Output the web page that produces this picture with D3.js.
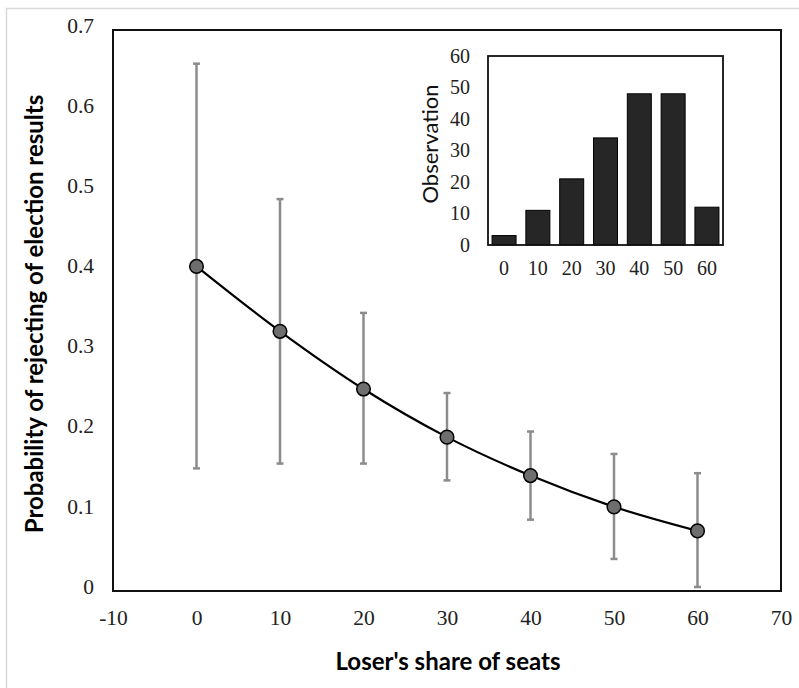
<!DOCTYPE html>
<html>
<head>
<meta charset="utf-8">
<script src="https://cdn.jsdelivr.net/npm/d3@7"></script>
<style>
html,body{margin:0;padding:0;background:#fff;}
svg{display:block;}
</style>
</head>
<body>
<div id="chart"></div>
<script>
// ---- data ----
const seatShare = [0, 10, 20, 30, 40, 50, 60];
const probability = [0.405, 0.324, 0.252, 0.192, 0.144, 0.105, 0.075];
const upperCI = [0.658, 0.489, 0.347, 0.247, 0.199, 0.171, 0.147];
const lowerCI = [0.153, 0.159, 0.159, 0.138, 0.089, 0.040, 0.005];
const xTicks = [-10, 0, 10, 20, 30, 40, 50, 60, 70];
const yTicks = [0, 0.1, 0.2, 0.3, 0.4, 0.5, 0.6, 0.7];

const histCategories = ["0", "10", "20", "30", "40", "50", "60"];
const histCounts = [3, 11, 21, 34, 48, 48, 12];
const histYTicks = [0, 10, 20, 30, 40, 50, 60];

const W = 799, H = 688;
const svg = d3.select("#chart").append("svg").attr("width", W).attr("height", H);

// outer light frame
svg.append("rect").attr("x", 6.5).attr("y", 8.5).attr("width", 820).attr("height", 700)
  .attr("fill", "#fff").attr("stroke", "#d9d9d9").attr("stroke-width", 1.5);

// ---- main chart ----
const x = d3.scaleLinear().domain([-10, 70]).range([113, 781]);
const y = d3.scaleLinear().domain([0, 0.7]).range([591, 30]);

const serif = "'Liberation Serif','Times New Roman',serif";
const sans = "Lato,'Open Sans',sans-serif";

// x axis labels
const xAxis = d3.axisBottom(x).tickValues(xTicks).tickSize(0).tickPadding(0).tickFormat(d => String(d));
const gx = svg.append("g").attr("transform", `translate(0,${y(0)})`).call(xAxis);
gx.select(".domain").remove();
gx.selectAll("text").attr("y", 0).attr("dy", "34px")
  .style("font-family", serif).style("font-size", "21.5px").attr("fill", "#222");

// y axis labels
const yAxis = d3.axisLeft(y).tickValues(yTicks).tickSize(0).tickPadding(0).tickFormat(d => d === 0 ? "0" : d3.format(".1f")(d));
const gy = svg.append("g").attr("transform", `translate(${x(-10)},0)`).call(yAxis);
gy.select(".domain").remove();
gy.selectAll("text").attr("x", -19).attr("dy", "0.1em")
  .style("font-family", serif).style("font-size", "21.5px").attr("fill", "#222");

// plot frame
svg.append("rect").attr("x", x(-10)).attr("y", y(0.7))
  .attr("width", x(70) - x(-10)).attr("height", y(0) - y(0.7))
  .attr("fill", "none").attr("stroke", "#111").attr("stroke-width", 2);

// error bars
const errColor = "#8c8c8c";
const eb = svg.append("g").attr("stroke", errColor).attr("stroke-width", 2.5);
seatShare.forEach((s, i) => {
  eb.append("line").attr("x1", x(s)).attr("x2", x(s)).attr("y1", y(upperCI[i])).attr("y2", y(lowerCI[i]));
  eb.append("line").attr("x1", x(s) - 3.5).attr("x2", x(s) + 3.5).attr("y1", y(upperCI[i])).attr("y2", y(upperCI[i]));
  eb.append("line").attr("x1", x(s) - 3.5).attr("x2", x(s) + 3.5).attr("y1", y(lowerCI[i])).attr("y2", y(lowerCI[i]));
});

// line
const line = d3.line().x((d, i) => x(seatShare[i])).y(d => y(d)).curve(d3.curveCardinal.tension(0));
svg.append("path").datum(probability).attr("d", line)
  .attr("fill", "none").attr("stroke", "#000").attr("stroke-width", 2.2);

// markers
svg.append("g").selectAll("circle").data(probability).join("circle")
  .attr("cx", (d, i) => x(seatShare[i])).attr("cy", d => y(d)).attr("r", 6.8)
  .attr("fill", "#6e6e6e").attr("stroke", "#000").attr("stroke-width", 1.5);

// axis titles
svg.append("text").attr("x", 448).attr("y", 670).attr("text-anchor", "middle")
  .style("font-family", sans).style("font-weight", "bold").style("font-size", "24px")
  .attr("fill", "#000").text("Loser's share of seats");
svg.append("text").attr("transform", "translate(43,314) rotate(-90)").attr("text-anchor", "middle")
  .style("font-family", sans).style("font-weight", "bold").style("font-size", "24px")
  .attr("fill", "#000").text("Probability of rejecting of election results");

// ---- inset histogram ----
const xb = d3.scaleBand().domain(histCategories).range([488, 723]).paddingInner(0.29).paddingOuter(0.12);
const yb = d3.scaleLinear().domain([0, 60]).range([245, 56]);

svg.append("g").selectAll("rect").data(histCounts).join("rect")
  .attr("x", (d, i) => xb(histCategories[i])).attr("y", d => yb(d))
  .attr("width", xb.bandwidth()).attr("height", d => yb(0) - yb(d))
  .attr("fill", "#262626").attr("stroke", "#000").attr("stroke-width", 1);

svg.append("rect").attr("x", 488).attr("y", yb(60))
  .attr("width", 723 - 488).attr("height", yb(0) - yb(60))
  .attr("fill", "none").attr("stroke", "#111").attr("stroke-width", 1.8);

const xbAxis = d3.axisBottom(xb).tickSize(0).tickPadding(0);
const gxb = svg.append("g").attr("transform", `translate(0,${yb(0)})`).call(xbAxis);
gxb.select(".domain").remove();
gxb.selectAll("text").attr("y", 0).attr("dy", "30px")
  .style("font-family", serif).style("font-size", "20px").attr("fill", "#222");

const ybAxis = d3.axisLeft(yb).tickValues(histYTicks).tickSize(0).tickPadding(0);
const gyb = svg.append("g").attr("transform", `translate(488,0)`).call(ybAxis);
gyb.select(".domain").remove();
gyb.selectAll("text").attr("x", -18).attr("dy", "0.32em")
  .style("font-family", serif).style("font-size", "20px").attr("fill", "#222");

svg.append("text").attr("transform", "translate(438,144) rotate(-90)").attr("text-anchor", "middle")
  .style("font-family", sans).style("font-size", "22px").attr("fill", "#111").text("Observation");
</script>
</body>
</html>
